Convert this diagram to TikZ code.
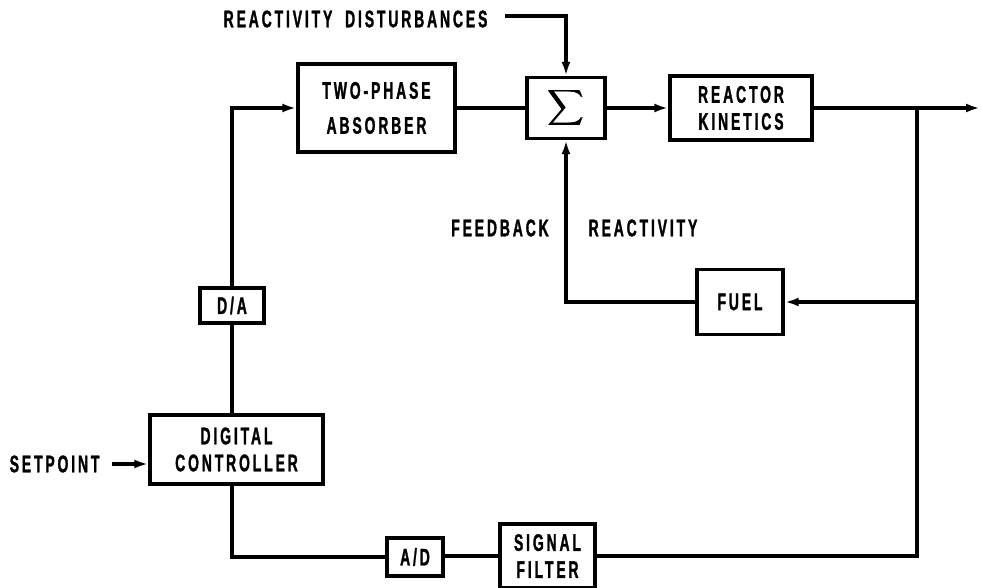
\documentclass[tikz,border=0pt]{standalone}
\usepackage{fontspec}
\usepackage{graphicx}
\usetikzlibrary{arrows.meta}
\newfontfamily\lab{Liberation Sans}[BoldFont=* Bold, FakeStretch=0.58, LetterSpace=12, FakeBold=1.2]
\newcommand{\heavysum}{\rlap{$\displaystyle\sum$}\kern0.35pt\rlap{$\displaystyle\sum$}\kern0.35pt$\displaystyle\sum$}
\begin{document}
\begin{tikzpicture}[x=1pt,y=-1pt,line width=3.4pt,
  txt/.style={font=\lab\bfseries\fontsize{24}{27}\selectfont},
  box/.style={draw, txt, align=center, inner sep=0pt},
  lbl/.style={txt, inner sep=0pt},
  arr/.style={-{Latex[length=14pt,width=9pt]}}]
\useasboundingbox (0,0) rectangle (983,588);
% blocks
\node[box, minimum width=157pt, minimum height=88pt] (abs) at (376.5,108) {TWO-PHASE\\[8pt]ABSORBER};
\node[box, minimum width=78pt, minimum height=61pt] (sum) at (566,108) {\scalebox{2.5}{\heavysum}};
\node[box, minimum width=142pt, minimum height=64pt] (rk) at (741,108) {REACTOR\\KINETICS};
\node[box, minimum width=86pt, minimum height=65pt] (fuel) at (740,302) {FUEL};
\node[box, minimum width=64pt, minimum height=35pt] (da) at (232,305.5) {D/A};
\node[box, minimum width=173pt, minimum height=69pt] (ctrl) at (236.5,449.5) {DIGITAL\\CONTROLLER};
\node[box, minimum width=56pt, minimum height=38pt] (ad) at (415,557) {A/D};
\node[box, minimum width=95pt, minimum height=64pt] (sf) at (547.5,556) {SIGNAL\\FILTER};
% labels
\node[lbl, anchor=west] (dist) at (222,19) {REACTIVITY\hspace{6pt} DISTURBANCES};
\node[lbl, anchor=west] (sp) at (8,464) {SETPOINT};
\node[lbl] (fb) at (500,228) {FEEDBACK};
\node[lbl] (re) at (643,228) {REACTIVITY};
% coordinates
\coordinate (dstart) at (505,16);
\coordinate (out) at (980,108);
\coordinate (br) at (917,108);
\coordinate (brb) at (917,556);
\coordinate (spE) at (112,464);
% connectors
\draw[arr] (dstart) -| (sum.north);
\draw (abs.east) -- (sum.west);
\draw[arr] (sum.east) -- (rk.west);
\draw[arr] (rk.east) -- (out);
\draw (br) -- (brb) -- (sf.east);
\draw[arr] (fuel.east -| br) -- (fuel.east);
\draw[arr] (fuel.west) -| (sum.south);
\draw (sf.west) -- (ad.east |- sf.west);
\draw (ad.west) -| (ctrl.south -| da);
\draw (ctrl.north -| da) -- (da.south);
\draw[arr] (da.north) |- (abs.west);
\draw[arr] (spE) -- (spE -| ctrl.west);
\end{tikzpicture}
\end{document}
